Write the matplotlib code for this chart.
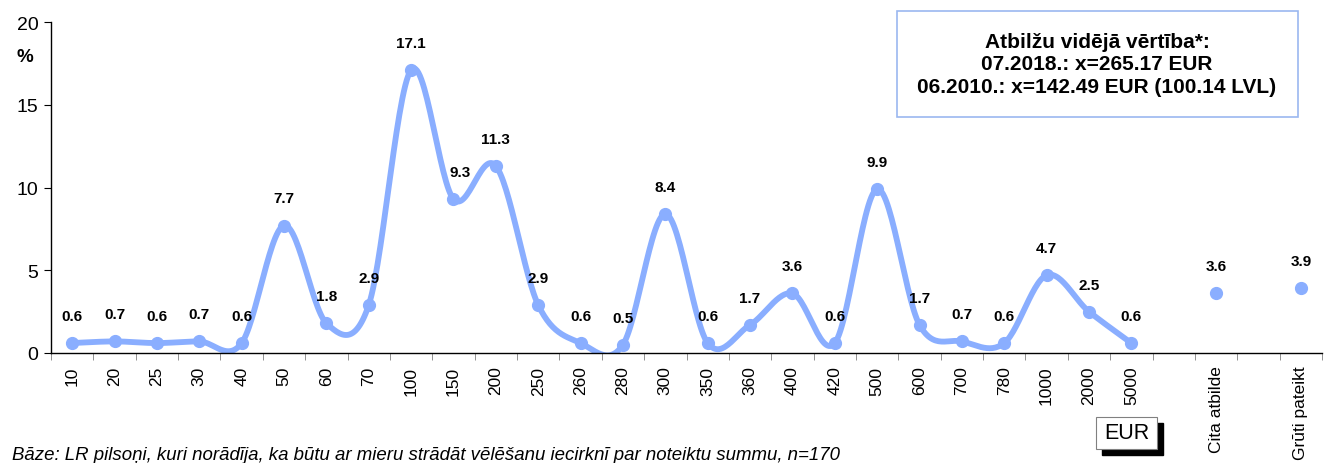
import numpy as np
import matplotlib
matplotlib.use('Agg')
import matplotlib.pyplot as plt
from matplotlib.patches import Rectangle

plt.rcParams['font.family'] = ['Liberation Sans', 'DejaVu Sans']

categories = ['10', '20', '25', '30', '40', '50', '60', '70', '100', '150',
              '200', '250', '260', '280', '300', '350', '360', '400', '420',
              '500', '600', '700', '780', '1000', '2000', '5000']
values = [0.6, 0.7, 0.6, 0.7, 0.6, 7.7, 1.8, 2.9, 17.1, 9.3,
          11.3, 2.9, 0.6, 0.5, 8.4, 0.6, 1.7, 3.6, 0.6,
          9.9, 1.7, 0.7, 0.6, 4.7, 2.5, 0.6]
extra_labels = ['Cita atbilde', 'Grūti pateikt']
extra_values = [3.6, 3.9]

line_color = '#8AAEFF'


def smooth(x, y, n=30):
    # Excel-like smoothed line (Catmull-Rom through bezier segments)
    x = np.asarray(x, float)
    y = np.asarray(y, float)
    px = np.concatenate([[x[0]], x, [x[-1]]])
    py = np.concatenate([[y[0]], y, [y[-1]]])
    xs, ys = [], []
    t = np.linspace(0, 1, n)
    for i in range(1, len(px) - 2):
        p0 = np.array([px[i], py[i]])
        p3 = np.array([px[i + 1], py[i + 1]])
        p1 = p0 + (np.array([px[i + 1], py[i + 1]]) - np.array([px[i - 1], py[i - 1]])) / 6
        p2 = p3 - (np.array([px[i + 2], py[i + 2]]) - np.array([px[i], py[i]])) / 6
        b = ((1 - t) ** 3)[:, None] * p0 + (3 * (1 - t) ** 2 * t)[:, None] * p1 \
            + (3 * (1 - t) * t ** 2)[:, None] * p2 + (t ** 3)[:, None] * p3
        xs.extend(b[:, 0])
        ys.extend(b[:, 1])
    return np.array(xs), np.array(ys)


fig = plt.figure(figsize=(13.3, 4.64), dpi=100)
ax = fig.add_axes([51 / 1330, 1 - 354 / 464, 1271 / 1330, 331 / 464])

xpos = np.arange(len(categories))
sx, sy = smooth(xpos, values)
ax.plot(sx, sy, color=line_color, lw=4.2, solid_capstyle='round', zorder=2)
ax.plot(xpos, values, 'o', color=line_color, ms=8.5, zorder=3)

extra_pos = [len(categories) + 1, len(categories) + 3]
ax.plot(extra_pos, extra_values, 'o', color=line_color, ms=8.5, zorder=3)

label_dx = {9: 5}
for i, v in enumerate(values):
    ax.annotate(f'{v:.1f}', (xpos[i], v), xytext=(label_dx.get(i, 0), 19.5),
                textcoords='offset points', ha='center', va='center',
                fontsize=11, fontweight='bold')
for p, v in zip(extra_pos, extra_values):
    ax.annotate(f'{v:.1f}', (p, v), xytext=(0, 19.5), textcoords='offset points',
                ha='center', va='center', fontsize=11, fontweight='bold')

ax.set_xlim(-0.5, 29.5)
ax.set_ylim(0, 20)
ax.set_yticks([0, 5, 10, 15, 20])
ax.tick_params(axis='y', labelsize=14, length=5, direction='out', pad=4)

ticklabels = [''] * 30
for i, c in enumerate(categories):
    ticklabels[i] = c
ticklabels[extra_pos[0]] = extra_labels[0]
ticklabels[extra_pos[1]] = extra_labels[1]
ax.set_xticks(np.arange(30))
ax.set_xticklabels(ticklabels, rotation=90, fontsize=12.5)
ax.tick_params(axis='x', length=0, pad=9)
ax.set_xticks(np.arange(-0.5, 30, 1), minor=True)
ax.tick_params(axis='x', which='minor', length=5, direction='out', color='#808080')

for s in ['top', 'right']:
    ax.spines[s].set_visible(False)
ax.spines['left'].set_linewidth(1)
ax.spines['bottom'].set_linewidth(1)

fig.text(25 / 1330, 1 - 58 / 464, '%', fontsize=13.5, fontweight='bold',
         ha='center', va='center')

# info box
fig.text(1097 / 1330, 1 - 65 / 464,
         'Atbilžu vidējā vērtība*:\n07.2018.: x=265.17 EUR\n06.2010.: x=142.49 EUR (100.14 LVL)',
         fontsize=15, fontweight='bold', ha='center', va='center', linespacing=1.22)
fig.patches.append(Rectangle((897 / 1330, 1 - 118 / 464), 401 / 1330, 106 / 464,
                             transform=fig.transFigure, fill=False,
                             edgecolor='#9BB8F0', lw=1.2))

# EUR box with shadow
fig.patches.append(Rectangle((1102 / 1330, 1 - 456 / 464), 61 / 1330, 32 / 464,
                             transform=fig.transFigure, facecolor='black',
                             edgecolor='black'))
fig.patches.append(Rectangle((1096 / 1330, 1 - 450 / 464), 61 / 1330, 32 / 464,
                             transform=fig.transFigure, facecolor='white',
                             edgecolor='#808080', lw=0.8))
fig.text(1126.5 / 1330, 1 - 434 / 464, 'EUR', fontsize=15.5, ha='center', va='center')

fig.text(12 / 1330, 1 - 456 / 464,
         'Bāze: LR pilsoņi, kuri norādīja, ka būtu ar mieru strādāt vēlēšanu iecirknī par noteiktu summu, n=170',
         fontsize=13.4, style='italic', ha='left', va='center')

fig.savefig('out.png', dpi=100)
